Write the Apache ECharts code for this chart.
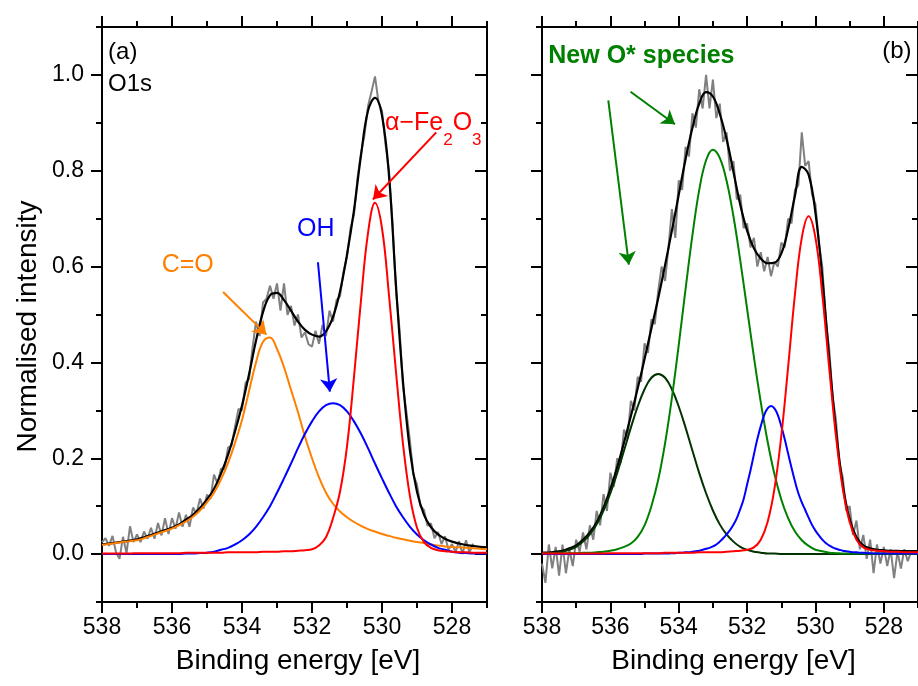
<!DOCTYPE html>
<html lang="en">
<head>
<meta charset="UTF-8">
<title>O1s fits</title>
<style>
    html, body { margin: 0; padding: 0; background: #ffffff; }
    #chart { width: 918px; height: 686px; }
</style>
</head>
<body>
<div id="chart"></div>
<script src="https://cdn.jsdelivr.net/npm/echarts@6/dist/echarts.min.js"></script>
<script>
    // fitted curves are sampled every 0.2 eV from 538 down to 527,
    // measured spectra (and the narrow OH peak of panel b) every 0.1 eV
    var fitStart = 538, fitStep = 0.2;
    var rawStart = 538, rawStep = 0.1;

    var xTicks = [538, 536, 534, 532, 530, 528];
    var xMinor = [537, 535, 533, 531, 529, 527];
    var yTicks = [0, 0.2, 0.4, 0.6, 0.8, 1.0];
    var yMinor = [-0.1, 0.1, 0.3, 0.5, 0.7, 0.9, 1.1];

    // ---- panel (a) ----
    var rawA = [
        .025, .033, .017, .038, .004, -.010, .036, .002, .058, .025,
        .041, .025, .047, .032, .055, .032, .065, .039, .075, .042,
        .075, .053, .087, .057, .082, .057, .097, .084, .116, .095,
        .124, .115, .166, .147, .178, .177, .222, .226, .266, .303,
        .300, .357, .365, .430, .485, .455, .525, .533, .560, .533,
        .565, .508, .565, .499, .518, .477, .500, .452, .463, .438,
        .433, .466, .439, .478, .455, .508, .485, .530, .538, .590,
        .620, .680, .708, .785, .837, .875, .935, .965, .997, .943,
        .925, .855, .800, .690, .550, .470, .350, .295, .235, .165,
        .145, .100, .092, .059, .064, .033, .046, .021, .037, .009,
        .021, .004, .027, .000, .029, .003, .022
    ];
    var envA = [
        .020, .022, .024, .026, .028, .031, .035, .040, .045, .050,
        .055, .062, .072, .082, .096, .114, .136, .168, .207, .256,
        .310, .375, .445, .505, .540, .545, .530, .508, .485, .468,
        .458, .454, .465, .495, .548, .625, .718, .832, .925, .952,
        .915, .790, .560, .360, .215, .130, .082, .056, .041, .032,
        .026, .022, .019, .017, .015, .014
    ];
    var coA = [
        .019, .021, .023, .025, .027, .029, .033, .038, .043, .048,
        .053, .060, .068, .078, .091, .108, .128, .156, .190, .232,
        .280, .340, .400, .443, .452, .428, .390, .343, .296, .245,
        .200, .160, .128, .105, .089, .077, .067, .059, .052, .047,
        .042, .038, .034, .031, .028, .025, .023, .020, .018, .016,
        .015, .014, .013, .012, .011, .010
    ];
    var ohA = [
        0, 0, 0, 0, 0, 0, 0, 0, 0, 0,
        0, 0, .001, .001, .002, .003, .005, .009, .013, .020,
        .029, .041, .057, .077, .100, .128, .158, .189, .221, .251,
        .277, .298, .311, .315, .311, .298, .277, .251, .221, .189,
        .158, .128, .100, .077, .057, .041, .029, .020, .013, .009,
        .005, .003, .002, .001, .001, .001
    ];
    var feA = [
        .001, .001, .001, .001, .001, .002, .002, .002, .002, .002,
        .002, .002, .003, .003, .003, .003, .003, .003, .004, .004,
        .004, .004, .004, .005, .005, .005, .006, .006, .007, .008,
        .010, .018, .035, .075, .130, .225, .370, .530, .670, .733,
        .680, .540, .380, .230, .120, .055, .025, .013, .008, .006,
        .005, .004, .004, .003, .003, .003
    ];

    // ---- panel (b) ----
    var rawB = [
        -.020, -.060, .020, -.030, .015, -.045, .020, -.040, .010, -.025,
        .030, .005, .045, .010, .060, .030, .090, .060, .125, .090,
        .170, .140, .200, .190, .260, .240, .320, .300, .370, .360,
        .440, .420, .490, .480, .550, .600, .570, .640, .720, .660,
        .780, .760, .850, .830, .920, .890, .970, .930, 1.000, .930,
        .990, .910, .940, .860, .880, .800, .820, .740, .750, .680,
        .690, .640, .660, .600, .630, .590, .620, .580, .610, .600,
        .650, .640, .700, .690, .760, .770, .880, .810, .820, .750,
        .730, .650, .600, .490, .430, .330, .280, .190, .160, .090,
        .100, .040, .070, .010, .040, -.010, .030, -.040, .020, -.020,
        .015, -.025, .010, -.050, .005, -.030, .010, -.015, .005
    ];
    var envB = [
        .003, .003, .005, .007, .012, .018, .030, .045, .067, .097,
        .136, .181, .233, .288, .346, .407, .471, .534, .603, .675,
        .750, .824, .889, .940, .964, .955, .919, .866, .798, .729,
        .675, .638, .617, .607, .608, .627, .678, .748, .808, .792,
        .712, .578, .411, .259, .144, .073, .035, .018, .012, .009,
        .008, .007, .007, .006, .006, .006
    ];
    var newOhighB = [
        .001, .001, .003, .005, .009, .015, .026, .041, .062, .091,
        .127, .169, .216, .264, .308, .344, .368, .376, .368, .344,
        .308, .264, .216, .169, .127, .091, .062, .041, .026, .015,
        .009, .005, .003, .001, .001, 0, 0, 0, 0, 0,
        0, 0, 0, 0, 0, 0, 0, 0, 0, 0,
        0, 0, 0, 0, 0, 0
    ];
    var newOlowB = [
        .001, .001, .001, .001, .002, .002, .003, .003, .004, .005,
        .007, .010, .015, .022, .036, .060, .100, .155, .231, .326,
        .436, .553, .665, .760, .822, .844, .827, .779, .705, .613,
        .512, .411, .317, .235, .167, .114, .075, .047, .029, .017,
        .009, .006, .003, .002, .001, .001, .001, .001, .001, .001,
        .001, .001, .001, .001, .001, .001
    ];
    // 0.1 eV sampling
    var ohB = [
        0, 0, 0, 0, 0, 0, 0, 0, 0, 0,
        0, 0, 0, 0, 0, 0, 0, 0, 0, 0,
        0, 0, 0, 0, 0, 0, 0, 0, 0, 0,
        .001, .001, .001, .001, .001, .001, .001, .001, .002, .002,
        .003, .003, .004, .004, .005, .006, .007, .009, .011, .013,
        .016, .020, .026, .033, .041, .050, .061, .075, .094, .115,
        .145, .175, .208, .240, .267, .290, .304, .309, .304, .290,
        .267, .240, .210, .180, .152, .127, .108, .092, .076, .061,
        .049, .039, .030, .023, .018, .014, .011, .009, .007, .006,
        .005, .004, .004, .003, .003, .002, .002, .001, .001, .001,
        .001, .001, .001, .001, .001, .001, .001, .001, .001, .001,
        .001
    ];
    var feB = [
        .001, .001, .001, .001, .001, .001, .001, .001, .001, .001,
        .002, .002, .002, .002, .002, .002, .002, .002, .003, .003,
        .003, .003, .003, .004, .004, .004, .004, .005, .006, .007,
        .009, .014, .030, .067, .136, .246, .390, .542, .660, .705,
        .660, .542, .390, .246, .136, .067, .030, .014, .009, .007,
        .006, .005, .005, .004, .004, .004
    ];

    var FONT = 'Liberation Sans, Arial, Helvetica, sans-serif';
    var GRAY = '#808080', RED = '#ff0000', BLUE = '#0000ff', ORANGE = '#ff8000',
        GREEN = '#008000', DKGREEN = '#003300';

    function pairs(start, step, vals) {
        return vals.map(function (v, i) {
            return [+(start - i * step).toFixed(2), v];
        });
    }

    function fmtX(v) { return xTicks.indexOf(v) >= 0 ? String(v) : ''; }
    function fmtY(v) { return v.toFixed(1); }

    var blackLine = { color: '#000', width: 2 };

    function xAxes(g, withName) {
        var base = { gridIndex: g, type: 'value', min: 527, max: 538, inverse: true,
            splitLine: { show: false } };
        var list = [];
        list.push(Object.assign({}, base, {
            position: 'bottom',
            axisLine: { show: true, onZero: false, lineStyle: blackLine },
            axisTick: { show: true, inside: false, length: 11, customValues: xTicks, lineStyle: blackLine },
            axisLabel: { show: true, customValues: xTicks, margin: 14, fontSize: 23, color: '#000',
                fontFamily: FONT, formatter: fmtX },
            name: withName ? 'Binding energy [eV]' : '', nameLocation: 'middle', nameGap: 45,
            nameTextStyle: { fontSize: 28, color: '#000', fontFamily: FONT, padding: [0, 0, 0, 7] }
        }));
        list.push(Object.assign({}, base, {
            position: 'bottom',
            axisLine: { show: false, onZero: false },
            axisTick: { show: true, inside: false, length: 6, customValues: xMinor, lineStyle: blackLine },
            axisLabel: { show: false }
        }));
        list.push(Object.assign({}, base, {
            position: 'top',
            axisLine: { show: true, onZero: false, lineStyle: blackLine },
            axisTick: { show: true, inside: false, length: 11, customValues: xTicks, lineStyle: blackLine },
            axisLabel: { show: false }
        }));
        list.push(Object.assign({}, base, {
            position: 'top',
            axisLine: { show: false, onZero: false },
            axisTick: { show: true, inside: false, length: 6, customValues: xMinor, lineStyle: blackLine },
            axisLabel: { show: false }
        }));
        return list;
    }

    function yAxes(g, withLabels) {
        var base = { gridIndex: g, type: 'value', min: -0.1, max: 1.1, splitLine: { show: false } };
        var list = [];
        list.push(Object.assign({}, base, {
            position: 'left',
            axisLine: { show: true, onZero: false, lineStyle: blackLine },
            axisTick: { show: true, inside: false, length: 11, customValues: yTicks, lineStyle: blackLine },
            axisLabel: { show: withLabels, customValues: yTicks, margin: 18, fontSize: 23, color: '#000',
                fontFamily: FONT, formatter: fmtY },
            name: withLabels ? 'Normalised intensity' : '', nameLocation: 'middle', nameGap: 60,
            nameTextStyle: { fontSize: 28, color: '#000', fontFamily: FONT, padding: [0, 24, 0, 0] }
        }));
        list.push(Object.assign({}, base, {
            position: 'left',
            axisLine: { show: false, onZero: false },
            axisTick: { show: true, inside: false, length: 6, customValues: yMinor, lineStyle: blackLine },
            axisLabel: { show: false }
        }));
        list.push(Object.assign({}, base, {
            position: 'right',
            axisLine: { show: true, onZero: false, lineStyle: blackLine },
            axisTick: { show: true, inside: true, length: 12, customValues: yTicks, lineStyle: blackLine },
            axisLabel: { show: false }
        }));
        list.push(Object.assign({}, base, {
            position: 'right',
            axisLine: { show: false, onZero: false },
            axisTick: { show: true, inside: true, length: 6, customValues: yMinor, lineStyle: blackLine },
            axisLabel: { show: false }
        }));
        return list;
    }

    function curve(g, vals, color, width, smooth, start, step) {
        return {
            type: 'line', xAxisIndex: 4 * g, yAxisIndex: 4 * g,
            data: pairs(start, step, vals), showSymbol: false, symbol: 'none',
            smooth: smooth, lineStyle: { color: color, width: width }, silent: true
        };
    }

    function note(value, text, color, size, pos, extra) {
        return {
            value: value,
            label: Object.assign({
                show: true, position: pos, distance: 0, formatter: text, color: color,
                fontSize: size, fontFamily: FONT, opacity: 1, textBorderWidth: 0
            }, extra || {})
        };
    }

    function arrow(from, to, color) {
        return [{ coord: from, lineStyle: { color: color, width: 2, type: 'solid' } }, { coord: to }];
    }

    function notes(g, items, arrows) {
        return {
            type: 'scatter', xAxisIndex: 4 * g, yAxisIndex: 4 * g, symbolSize: 1,
            itemStyle: { color: 'rgba(255,255,255,0)', opacity: 1 }, silent: true, z: 10,
            data: items,
            markLine: {
                silent: true, symbol: ['none', 'arrow'], symbolSize: 13, precision: 3,
                label: { show: false }, emphasis: { disabled: true },
                data: arrows
            }
        };
    }

    var feRich = {
        a: { fontSize: 25, color: RED, fontFamily: FONT, lineHeight: 26, verticalAlign: 'top' },
        s: { fontSize: 17, color: RED, fontFamily: FONT, lineHeight: 38, verticalAlign: 'bottom' }
    };

    var option = {
        animation: false,
        backgroundColor: '#ffffff',
        grid: [
            { left: 102, top: 27, width: 385, height: 575 },
            { left: 542, top: 27, width: 385, height: 575 }
        ],
        xAxis: xAxes(0, true).concat(xAxes(1, true)),
        yAxis: yAxes(0, true).concat(yAxes(1, false)),
        series: [
            curve(0, rawA, GRAY, 2, false, rawStart, rawStep),
            curve(0, envA, '#000', 2.2, 0.4, fitStart, fitStep),
            curve(0, coA, ORANGE, 2, 0.4, fitStart, fitStep),
            curve(0, ohA, BLUE, 2, 0.4, fitStart, fitStep),
            curve(0, feA, RED, 2, 0.4, fitStart, fitStep),
            notes(0, [
                note([537.84, 1.047], '(a)', '#000', 24, 'right'),
                note([537.84, 0.980], 'O1s', '#000', 24, 'right'),
                note([535.55, 0.604], 'C=O', ORANGE, 25, 'inside'),
                note([531.89, 0.679], 'OH', BLUE, 25, 'inside'),
                note([529.93, 0.885], '{a|\u03b1\u2212Fe}{s|2}{a|O}{s|3}', RED, 25, 'right', { rich: feRich })
            ], [
                arrow([528.45, 0.880], [530.26, 0.740], RED),
                arrow([531.83, 0.609], [531.49, 0.339], BLUE),
                arrow([534.54, 0.547], [533.30, 0.458], ORANGE)
            ]),

            curve(1, rawB, GRAY, 2, false, rawStart, rawStep),
            curve(1, envB, '#000', 2.2, 0.4, fitStart, fitStep),
            curve(1, newOhighB, DKGREEN, 2, 0.4, fitStart, fitStep),
            curve(1, newOlowB, GREEN, 2, 0.4, fitStart, fitStep),
            curve(1, ohB, BLUE, 2, 0.4, rawStart, rawStep),
            curve(1, feB, RED, 2, 0.4, fitStart, fitStep),
            notes(1, [
                note([537.83, 1.040], 'New O* species', GREEN, 25, 'right', { fontWeight: 'bold' }),
                note([528.06, 1.049], '(b)', '#000', 24, 'right')
            ], [
                arrow([535.41, 0.965], [534.11, 0.897], GREEN),
                arrow([536.06, 0.947], [535.46, 0.604], GREEN)
            ])
        ]
    };

    var chart = echarts.init(document.getElementById('chart'), null, { renderer: 'canvas' });
    chart.setOption(option);
</script>
</body>
</html>
